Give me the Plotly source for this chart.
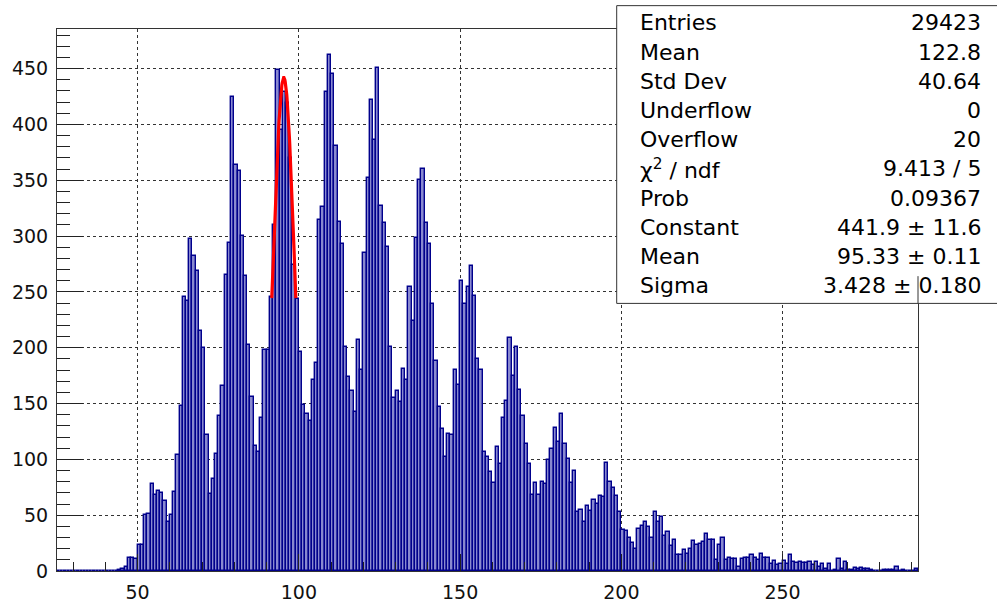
import numpy as np
import plotly.graph_objects as go

# ---------------- data ----------------
BIN_LOW = 25
BIN_HIGH = 292
BIN_WIDTH = 1

counts = (
    [0] * 19 +                                              # 25-43
    [1, 2, 4, 12, 12, 11] +                                 # 44-49
    [23, 23, 50, 51, 78, 68, 72, 70, 63, 44] +              # 50-59
    [50, 71, 104, 148, 245, 242, 297, 282, 269, 215] +      # 60-69
    [200, 122, 69, 82, 105, 139, 166, 265, 294, 425] +      # 70-79
    [364, 358, 300, 264, 202, 156, 112, 107, 137, 198] +    # 80-89
    [198, 245, 310, 449, 395, 429, 419, 370, 274, 244] +    # 90-99
    [196, 149, 141, 134, 171, 186, 314, 326, 429, 462] +    # 100-109
    [445, 381, 313, 293, 201, 174, 161, 142, 207, 180] +    # 110-119
    [285, 352, 422, 386, 451, 327, 312, 290, 201, 155] +    # 120-129
    [161, 151, 181, 171, 254, 224, 298, 350, 360, 312] +    # 130-139
    [293, 239, 188, 147, 127, 102, 123, 122, 180, 167] +    # 140-149
    [260, 239, 254, 273, 246, 190, 180, 107, 102, 89] +     # 150-159
    [79, 111, 96, 137, 152, 209, 175, 201, 162, 139] +      # 160-169
    [114, 96, 68, 79, 68, 80, 78, 99, 109, 128] +           # 170-179
    [116, 141, 114, 100, 79, 90, 53, 55, 44, 58] +          # 180-189
    [54, 64, 60, 67, 66, 97, 80, 74, 67, 53] +              # 190-199
    [37, 36, 30, 25, 20, 38, 40, 44, 39] +                  # 200-208
    [30, 53, 44, 48, 31, 35, 22, 28, 14, 14,
     19, 15, 20, 27, 23, 24, 26, 33, 28, 28,
     10, 23, 30, 10, 12, 11, 11, 4, 11, 12,
     12, 14, 12, 10, 15, 12, 12, 6, 9, 5, 6] +              # 209-249
    [9] +                                                   # 250
    [6, 14, 8, 7, 8, 7, 7, 8, 5, 8,
     4, 6, 2, 6, 0, 1, 11, 2, 8, 1,
     1, 3, 2, 3, 2, 2, 1, 0, 0, 0,
     1, 1, 1, 1, 4, 0, 1, 0, 0, 0, 2]                       # 251-291
)

bin_edges_low = list(range(BIN_LOW, BIN_HIGH, BIN_WIDTH))
bin_centers = [b + BIN_WIDTH / 2 for b in bin_edges_low]

# Gaussian fit shown in the stats box
FIT_CONSTANT = 441.9
FIT_MEAN = 95.33
FIT_SIGMA = 3.428
FIT_RANGE = (91.6, 99.06)

stat_labels = ["Entries", "Mean", "Std Dev", "Underflow", "Overflow",
               "χ<sup>2</sup> / ndf", "Prob", "Constant", "Mean", "Sigma"]
stat_values = ["29423", "122.8", "40.64", "0", "20",
               "9.413 / 5", "0.09367", "441.9 ± 11.6", "95.33 ± 0.11",
               "3.428 ± 0.180"]

Y_MAX = 485.5

# ---------------- figure ----------------
W, H = 997, 615
ML, MR, MT, MB = 55, 79, 29, 29
PW, PH = W - ML - MR, H - MT - MB


def px_x(px):
    return (px - ML) / PW


def px_y(py):
    return (H - MB - py) / PH


fig = go.Figure()
fig.add_trace(go.Bar(
    x=bin_centers, y=counts, width=BIN_WIDTH,
    marker=dict(color="#8a8ad0", line=dict(color="#00008c", width=1.4)),
    showlegend=False,
))

fx = np.linspace(FIT_RANGE[0], FIT_RANGE[1], 80)
fy = FIT_CONSTANT * np.exp(-0.5 * ((fx - FIT_MEAN) / FIT_SIGMA) ** 2)
fig.add_trace(go.Scatter(x=fx, y=fy, mode="lines",
                         line=dict(color="#ff0000", width=3.2),
                         showlegend=False))

axis_font = dict(family="DejaVu Sans", size=19, color="#111111")
fig.update_xaxes(
    range=[BIN_LOW, BIN_HIGH], tick0=0, dtick=50,
    ticks="inside", ticklen=17, tickwidth=1, tickcolor="#222222",
    minor=dict(dtick=10, tick0=0, ticks="inside", ticklen=9,
               tickcolor="#222222", showgrid=False),
    showgrid=True, gridcolor="#333333", gridwidth=1, griddash="3px,3px",
    showline=True, linecolor="#333333", linewidth=1, mirror=True,
    tickfont=axis_font, zeroline=False, ticklabelstandoff=4,
)
fig.update_yaxes(
    range=[0, Y_MAX], tick0=0, dtick=50,
    ticks="inside", ticklen=26, tickwidth=1, tickcolor="#222222",
    minor=dict(dtick=10, tick0=0, ticks="inside", ticklen=13,
               tickcolor="#222222", showgrid=False),
    showgrid=True, gridcolor="#333333", gridwidth=1, griddash="3px,3px",
    showline=True, linecolor="#333333", linewidth=1, mirror=True,
    tickfont=axis_font, zeroline=False, ticklabelstandoff=4,
)

# stats box
box_left, box_top, box_right, box_bottom = 616, 5, 1005, 311
fig.add_shape(type="rect", xref="paper", yref="paper",
              x0=px_x(box_left), x1=px_x(box_right),
              y0=px_y(box_bottom), y1=px_y(box_top),
              fillcolor="white", line=dict(color="#333333", width=1),
              layer="above")
fig.add_shape(type="line", xref="paper", yref="paper",
              x0=1, x1=1, y0=px_y(box_bottom), y1=px_y(283),
              line=dict(color="#333333", width=1), layer="above")

row0, row_step = 22.7, 30.0
for i, (lab, val) in enumerate(zip(stat_labels, stat_values)):
    yc = px_y(row0 + i * row_step)
    fig.add_annotation(x=px_x(637), y=yc, xref="paper", yref="paper",
                       text=lab, showarrow=False, xanchor="left",
                       yanchor="middle",
                       font=dict(family="DejaVu Sans", size=22, color="#000000"))
    fig.add_annotation(x=px_x(983), y=yc, xref="paper", yref="paper",
                       text=val, showarrow=False, xanchor="right",
                       yanchor="middle",
                       font=dict(family="DejaVu Sans", size=22, color="#000000"))

fig.update_layout(
    width=W, height=H,
    margin=dict(l=ML, r=MR, t=MT, b=MB),
    paper_bgcolor="white", plot_bgcolor="white",
    bargap=0, showlegend=False,
)

fig.write_html("out.html")
